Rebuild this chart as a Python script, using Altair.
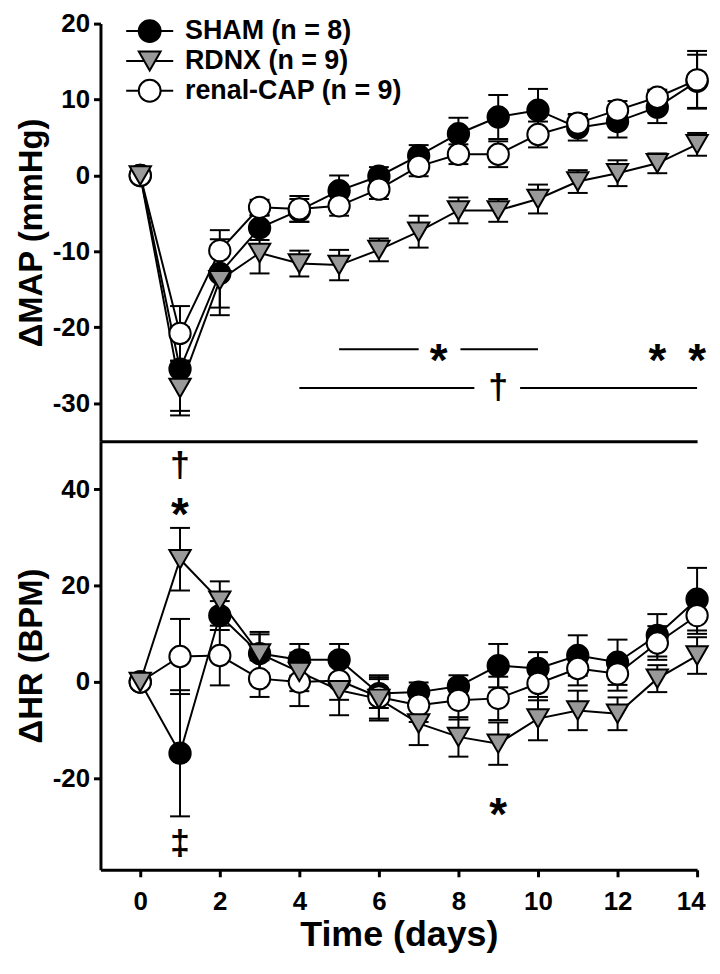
import altair as alt
import pandas as pd

groups = ["SHAM (n = 8)", "RDNX (n = 9)", "renal-CAP (n = 9)"]
days = list(range(15))

# ΔMAP (mmHg)
map_sham = [0, -25.5, -12.9, -6.9, -4.6, -2.0, -0.1, 2.6, 5.5, 7.7, 8.6, 6.3, 7.1, 9.0, 12.4]
map_sham_sem = [0, 5.5, 4.5, 1.6, 1.5, 2.0, 1.2, 1.4, 2.1, 2.9, 2.8, 1.7, 2.1, 2.1, 3.5]
map_rdnx = [0, -28.0, -13.8, -10.2, -11.6, -11.8, -9.8, -7.4, -4.6, -4.6, -3.1, -0.8, 0.3, 1.6, 4.1]
map_rdnx_sem = [0, 3.6, 4.6, 2.7, 1.7, 2.0, 1.5, 2.1, 1.7, 1.5, 1.9, 1.5, 1.7, 1.3, 1.5]
map_cap = [0, -20.8, -9.9, -4.2, -4.4, -4.0, -1.8, 1.2, 2.8, 2.8, 5.4, 6.9, 8.6, 10.3, 12.6]
map_cap_sem = [0, 3.6, 2.7, 1.0, 1.7, 1.3, 1.3, 1.3, 1.3, 1.7, 1.7, 1.2, 1.2, 1.0, 3.8]

# ΔHR (BPM)
hr_sham = [0, -14.8, 13.8, 5.9, 4.6, 4.6, -2.4, -2.1, -0.9, 3.4, 2.8, 5.5, 4.1, 9.7, 17.2]
hr_sham_sem = [0, 13.1, 3.0, 4.5, 3.3, 3.3, 3.0, 2.0, 2.3, 4.5, 3.4, 4.2, 4.7, 4.4, 6.5]
hr_rdnx = [0, 25.5, 16.9, 5.9, 2.1, -1.7, -3.5, -8.6, -11.4, -12.8, -7.6, -5.9, -6.6, 0.7, 5.5]
hr_rdnx_sem = [0, 6.5, 4.0, 4.0, 4.0, 5.2, 4.5, 4.5, 4.1, 4.4, 4.5, 4.1, 3.4, 2.8, 3.8]
hr_cap = [0, 5.3, 5.5, 0.7, 0.0, 0.3, -3.1, -4.8, -3.8, -3.4, -0.3, 2.8, 1.7, 8.1, 13.8]
hr_cap_sem = [0, 7.8, 6.2, 3.8, 5.0, 4.0, 4.5, 3.5, 4.0, 4.5, 3.5, 3.5, 3.5, 3.5, 3.8]

# significance annotations (top panel)
map_bar_start = [5.0, 8.05, 4.0, 9.55]
map_bar_end = [7.0, 10.0, 8.4, 14.0]
map_bar_y = [-22.9, -22.9, -28.0, -28.0]
map_star_day = [7.5, 13.0, 14.0]
map_star_y = [-22.9, -22.9, -22.9]
map_dag_day = [9.0]
map_dag_y = [-28.0]
map_dag_txt = ["†"]
# bottom panel
hr_star_day = [1, 9]
hr_star_y = [37.2, -25.2]
hr_dag_day = [1, 1]
hr_dag_y = [44.9, -33.7]
hr_dag_txt = ["†", "‡"]

fills = ["black", "#999999", "white"]
shapes = ["circle", "triangle-down", "circle"]
legend_shapes = [
    "M-2.15,0L-1,0M1,0L2.15,0M1,0A1,1,0,1,1,-1,0A1,1,0,1,1,1,0Z",
    "M-2.15,0L-0.5,0M0.5,0L2.15,0M0,0.87L-1,-0.87L1,-0.87Z",
    "M-2.15,0L-1,0M1,0L2.15,0M1,0A1,1,0,1,1,-1,0A1,1,0,1,1,1,0Z",
]
zorder = [0, 2, 1]

FONT = "Liberation Sans"


def make_df(series, sems):
    rows = []
    for gi, (vals, errs) in enumerate(zip(series, sems)):
        for d, v, e in zip(days, vals, errs):
            rows.append({"day": d, "value": v, "lo": v - e, "hi": v + e,
                         "group": groups[gi], "z": zorder[gi]})
    return pd.DataFrame(rows)


df_map = make_df([map_sham, map_rdnx, map_cap], [map_sham_sem, map_rdnx_sem, map_cap_sem])
df_hr = make_df([hr_sham, hr_rdnx, hr_cap], [hr_sham_sem, hr_rdnx_sem, hr_cap_sem])

xscale = alt.Scale(domain=[-1, 14], nice=False, zero=False)


def panel(df, ydom, yvals, ytitle, h, bottom, bars, stars, dags, legend=False):
    yscale = alt.Scale(domain=ydom, nice=False, zero=False)
    if bottom:
        xaxis = alt.Axis(values=list(range(0, 15, 2)), title="Time (days)", labelPadding=12,
                         titlePadding=3, titleFontSize=36, labelFlush=5, labelFlushOffset=8)
    else:
        xaxis = alt.Axis(labels=False, ticks=False, title=None)
    yaxis = alt.Axis(values=yvals, title=ytitle, labelExpr="'' + datum.value",
                     labelPadding=4, titlePadding=4, titleFontSize=33)
    base = alt.Chart(df)
    lines = base.mark_line(color="black", strokeWidth=2).encode(
        x=alt.X("day:Q", scale=xscale, axis=xaxis),
        y=alt.Y("value:Q", scale=yscale, axis=yaxis),
        detail="group:N",
    )
    err = base.mark_rule(color="black", strokeWidth=2).encode(
        x="day:Q", y="lo:Q", y2="hi:Q")
    cap_lo = base.mark_tick(orient="horizontal", color="black", size=20, thickness=2, opacity=1).encode(
        x="day:Q", y=alt.Y("lo:Q"))
    cap_hi = base.mark_tick(orient="horizontal", color="black", size=20, thickness=2, opacity=1).encode(
        x="day:Q", y=alt.Y("hi:Q"))
    pts = base.mark_point(filled=True, stroke="black", strokeWidth=2, size=460, opacity=1).encode(
        x="day:Q", y="value:Q",
        fill=alt.Fill("group:N", scale=alt.Scale(domain=groups, range=fills), legend=None),
        shape=alt.Shape("group:N", scale=alt.Scale(domain=groups, range=shapes), legend=None),
        order="z:Q",
    )
    layers = []
    if bars is not None:
        bdf = pd.DataFrame({"day": bars[0], "day2": bars[1], "value": bars[2]})
        layers.append(alt.Chart(bdf).mark_rule(color="black", strokeWidth=2).encode(
            x="day:Q", x2="day2:Q", y="value:Q"))
    sdf = pd.DataFrame({"day": stars[0], "value": stars[1], "t": ["*"] * len(stars[0])})
    layers.append(alt.Chart(sdf).mark_text(font=FONT, fontWeight="bold", fontSize=46, dy=13,
                                           color="black").encode(
        x="day:Q", y="value:Q", text="t:N"))
    ddf = pd.DataFrame({"day": dags[0], "value": dags[1], "t": dags[2]})
    layers.append(alt.Chart(ddf).mark_text(font=FONT, fontWeight="bold", fontSize=36,
                                           color="black").encode(
        x="day:Q", y="value:Q", text="t:N"))
    layers = [lines] + layers + [err, cap_lo, cap_hi, pts]
    if legend:
        leg = alt.Legend(title=None, orient="none", legendX=36, legendY=-6,
                         labelFont=FONT, labelFontWeight="bold", labelFontSize=27,
                         labelColor="black", labelLimit=500, labelOffset=22,
                         symbolSize=484, symbolStrokeWidth=2,
                         symbolOpacity=1, rowPadding=0, padding=0)
        ldf = df[df["day"] == 0]
        lg = alt.Chart(ldf).mark_point(filled=True, stroke="black", strokeWidth=2,
                                       size=484, opacity=0).encode(
            x="day:Q", y="value:Q",
            fill=alt.Fill("group:N", scale=alt.Scale(domain=groups, range=fills), legend=leg),
            shape=alt.Shape("group:N", scale=alt.Scale(domain=groups, range=legend_shapes), legend=leg),
        )
        layers.append(lg)
    ch = alt.layer(*layers).properties(width=600, height=h)
    if legend:
        ch = ch.resolve_scale(fill="independent", shape="independent")
    return ch


top = panel(df_map, [-35, 20], [-30, -20, -10, 0, 10, 20], "ΔMAP (mmHg)", 420, False,
            (map_bar_start, map_bar_end, map_bar_y), (map_star_day, map_star_y),
            (map_dag_day, map_dag_y, map_dag_txt), legend=True)
bottom = panel(df_hr, [-39, 50], [-20, 0, 20, 40], "ΔHR (BPM)", 431, True,
               None, (hr_star_day, hr_star_y), (hr_dag_day, hr_dag_y, hr_dag_txt))

chart = alt.vconcat(top, bottom, spacing=0).properties(
    padding={"left": 7, "top": 0, "right": 0, "bottom": 4}
).configure_view(stroke=None).configure_axis(
    grid=False, domainColor="black", domainWidth=3, tickColor="black", tickWidth=3,
    tickSize=7, labelFont=FONT, labelFontWeight="bold", labelFontSize=26,
    labelColor="black", titleFont=FONT, titleFontWeight="bold", titleColor="black",
)

chart.save("out.html", embed_options={"renderer": "svg", "actions": False})
